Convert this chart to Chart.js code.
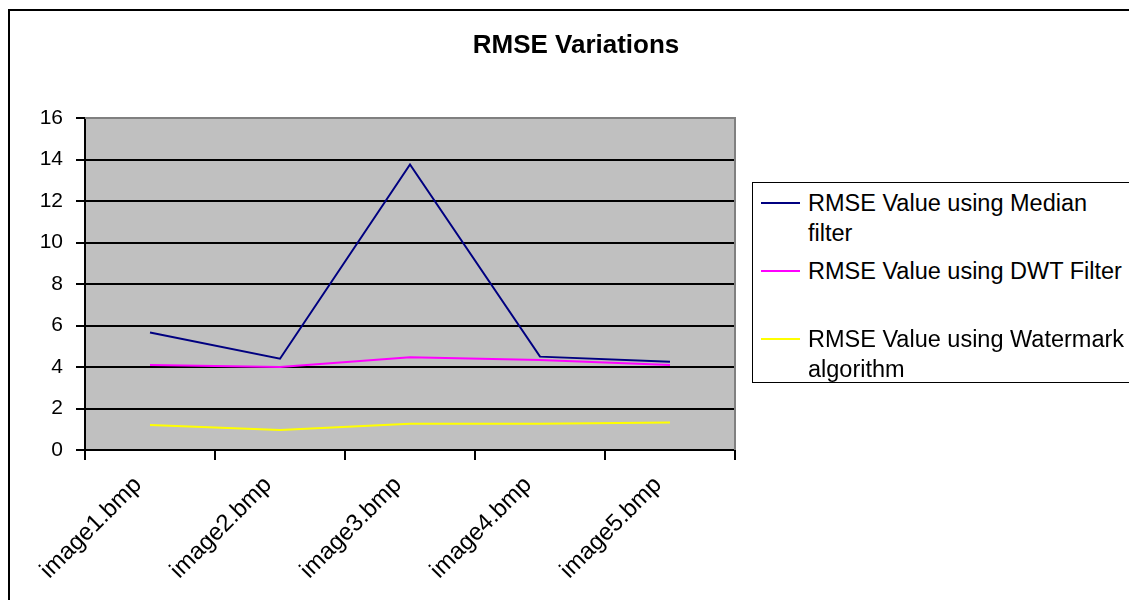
<!DOCTYPE html>
<html>
<head>
<meta charset="utf-8">
<script src="https://cdn.jsdelivr.net/npm/chart.js@4.4.1/dist/chart.umd.min.js"></script>
<style>
  html, body { margin: 0; padding: 0; width: 1129px; height: 600px; overflow: hidden; background: #fff; }
  #stage { position: relative; width: 1129px; height: 600px; overflow: hidden; }
  #frame { position: absolute; left: 8px; top: 9px; width: 1200px; height: 700px;
           border-left: 2px solid #000; border-top: 2px solid #000; }
  #chart { position: absolute; left: 0; top: 0; }
  #legend { position: absolute; left: 752px; top: 182px; width: 1000px; height: 199px;
            border: 1px solid #000; border-right: none; background: #fff; color: #000;
            font-family: 'Liberation Sans', Arial, sans-serif; font-size: 23.5px; line-height: 30px; }
  #legend .item { position: absolute; left: 0; }
  #legend .swatch { position: absolute; left: 8px; top: 14px; width: 39px; height: 2px; }
  #legend .text { position: absolute; left: 55px; top: 0; width: 328px; white-space: normal; }
</style>
</head>
<body>
<div id="stage">
  <div id="frame"></div>
  <canvas id="chart" width="1129" height="600"></canvas>
  <div id="legend"></div>
</div>
<script>
// Image names along the x axis
const categories = ['image1.bmp', 'image2.bmp', 'image3.bmp', 'image4.bmp', 'image5.bmp'];

// RMSE per image for each method
const medianRmse    = [5.66, 4.40, 13.76, 4.50, 4.25];
const dwtRmse       = [4.10, 4.00, 4.47, 4.34, 4.10];
const watermarkRmse = [1.20, 0.96, 1.26, 1.27, 1.33];

const seriesNames  = ['RMSE Value using Median filter', 'RMSE Value using DWT Filter', 'RMSE Value using Watermark algorithm'];
const seriesColors = ['#000080', '#ff00ff', '#ffff00'];

// Value axis range
const yMin = 0, yMax = 16, yStep = 2;

const chartTitle = 'RMSE Variations';
const FONT = "'Liberation Sans', Arial, sans-serif";
Chart.defaults.font.family = FONT;
Chart.defaults.color = '#000';

// Grey plot background, grey top/right frame of the plot area, and the chart title
const plotFrame = {
  id: 'plotFrame',
  beforeDraw(chart) {
    const { ctx, chartArea: a } = chart;
    ctx.save();
    ctx.fillStyle = '#c0c0c0';
    ctx.fillRect(a.left, a.top, a.right - a.left, a.bottom - a.top);
    ctx.restore();
  },
  beforeDatasetsDraw(chart) {
    const { ctx, chartArea: a } = chart;
    ctx.save();
    ctx.strokeStyle = '#808080';
    ctx.lineWidth = 2;
    ctx.beginPath();
    ctx.moveTo(a.left, a.top);
    ctx.lineTo(a.right, a.top);
    ctx.lineTo(a.right, a.bottom);
    ctx.stroke();
    ctx.restore();
  },
  afterDraw(chart, args, opts) {
    const { ctx } = chart;
    ctx.save();
    ctx.fillStyle = '#000';
    ctx.font = 'bold 26px ' + FONT;
    ctx.textAlign = 'center';
    ctx.textBaseline = 'alphabetic';
    ctx.fillText(opts.text, opts.x, opts.baseline);
    ctx.restore();
  }
};

const series = [medianRmse, dwtRmse, watermarkRmse];

const chart = new Chart(document.getElementById('chart'), {
  type: 'line',
  data: {
    labels: categories,
    datasets: series.map((values, i) => ({
      label: seriesNames[i],
      data: values,
      borderColor: seriesColors[i],
      backgroundColor: seriesColors[i],
      borderWidth: 2,
      pointRadius: 0,
      pointHoverRadius: 0,
      tension: 0,
      fill: false
    }))
  },
  options: {
    responsive: false,
    animation: false,
    events: [],
    layout: { padding: { left: 0, right: 394, top: 118, bottom: 0 } },
    plugins: {
      legend: { display: false },
      tooltip: { enabled: false },
      title: { display: false },
      plotFrame: { text: chartTitle, x: 576, baseline: 53 }
    },
    scales: {
      x: {
        offset: true,
        grid: {
          offset: true,
          drawOnChartArea: false,
          tickLength: 10,
          color: '#000',
          lineWidth: 2
        },
        border: { color: '#000', width: 2 },
        ticks: {
          autoSkip: false,
          minRotation: 45,
          maxRotation: 45,
          padding: 11,
          labelOffset: -12,
          color: '#000',
          font: { family: FONT, size: 24 }
        },
        afterFit(scale) { scale.height = 150; }
      },
      y: {
        min: yMin,
        max: yMax,
        grid: {
          tickLength: 9,
          lineWidth: 2,
          color: (c) => (c.tick && c.tick.value === yMax ? '#808080' : '#000'),
          tickColor: '#000'
        },
        border: { color: '#000', width: 2 },
        ticks: {
          stepSize: yStep,
          padding: 13,
          color: '#000',
          font: { family: FONT, size: 21 }
        },
        afterFit(scale) { scale.width = 85; }
      }
    }
  },
  plugins: [plotFrame]
});

// Legend built from the chart's datasets
const legendRowHeight = 68;
const legendFirstRow = 4.5;
const legendEl = document.getElementById('legend');
chart.data.datasets.forEach((ds, i) => {
  const item = document.createElement('div');
  item.className = 'item';
  item.style.top = (legendFirstRow + i * legendRowHeight) + 'px';
  const sw = document.createElement('div');
  sw.className = 'swatch';
  sw.style.background = ds.borderColor;
  const tx = document.createElement('div');
  tx.className = 'text';
  tx.textContent = ds.label;
  item.appendChild(sw);
  item.appendChild(tx);
  legendEl.appendChild(item);
});
</script>
</body>
</html>
